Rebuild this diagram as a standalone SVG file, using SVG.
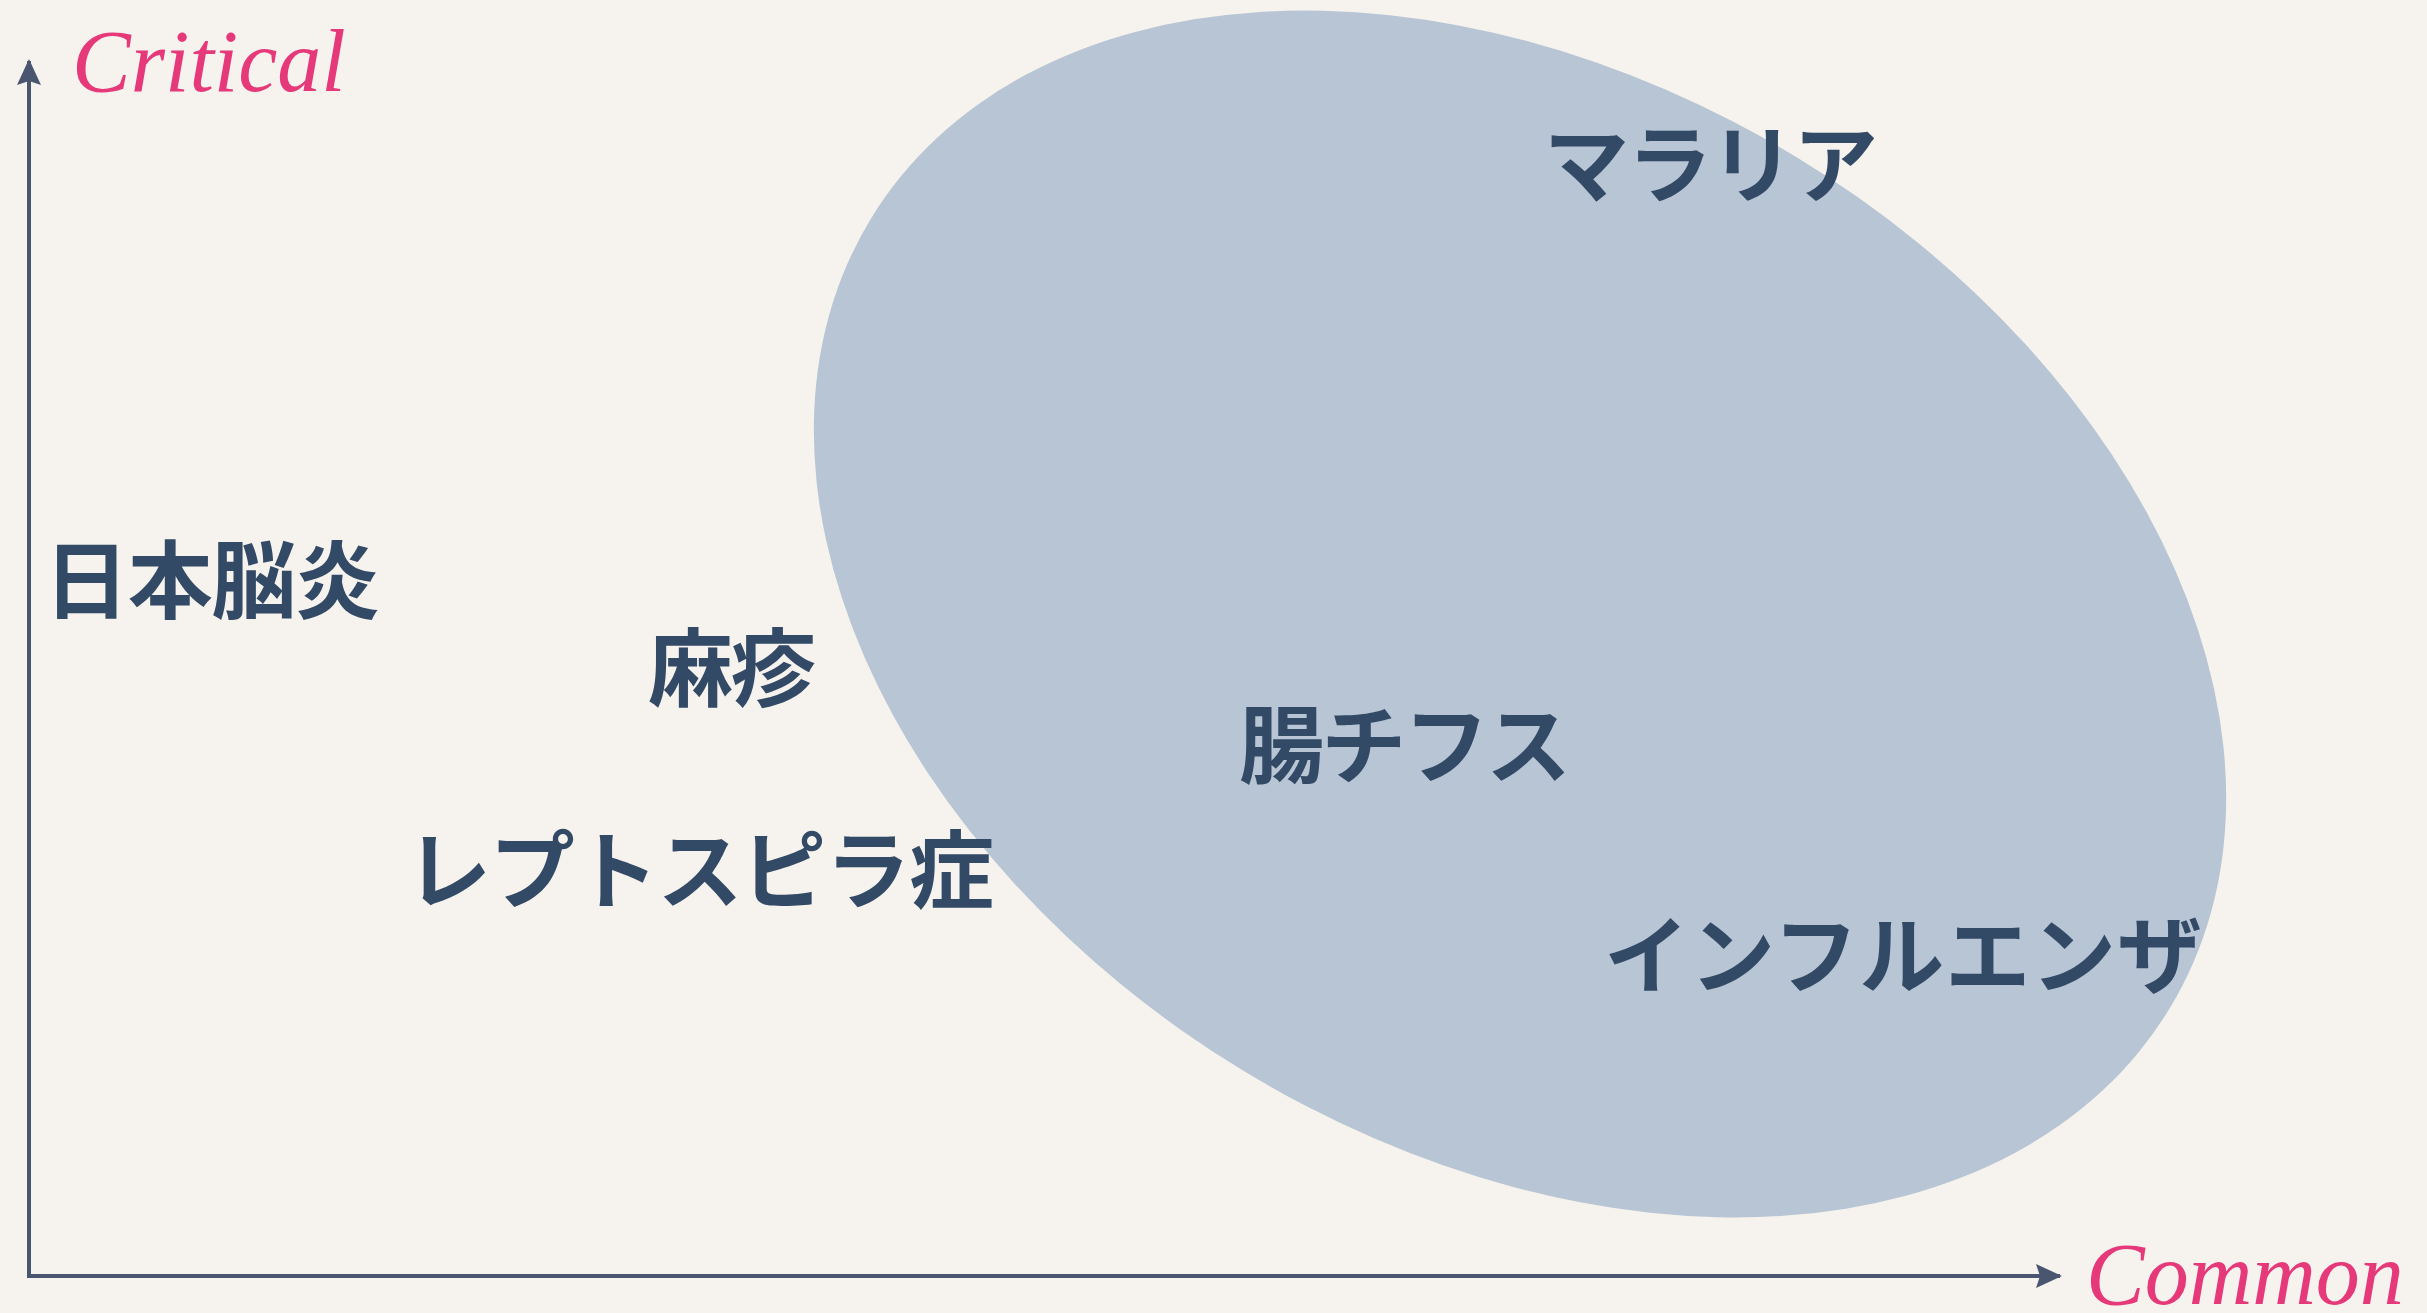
<svg xmlns="http://www.w3.org/2000/svg" width="2427" height="1313" viewBox="0 0 2427 1313">
  <style>
    .jp { font-family: "Noto Sans CJK JP", "Noto Sans CJK SC", sans-serif; font-size: 85px; font-weight: 700; fill: #334a66; }
    .ax { font-family: "Liberation Serif", serif; font-style: italic; font-size: 88px; fill: #e5397a; }
    .axis { stroke: #4a5670; stroke-width: 4; fill: none; }
  </style>
  <defs>
    <marker id="arr" viewBox="0 0 26 26" refX="24" refY="13" markerWidth="26" markerHeight="26" markerUnits="userSpaceOnUse" orient="auto">
      <path d="M0,1 L26,13 L0,25 L4,13 Z" fill="#4a5670"/>
    </marker>
  </defs>
  <rect width="2427" height="1313" fill="#f6f2ed"/>
  <g id="region">
    <ellipse cx="1520" cy="614" rx="760" ry="534" transform="rotate(31.3 1520 614)" fill="#b7c5d4"/>
  </g>
  <g id="connectors">
    <path class="axis" d="M29,1276 L29,61" marker-end="url(#arr)"/>
    <path class="axis" d="M27,1276 L2060,1276" marker-end="url(#arr)"/>
  </g>
  <g id="label-critical"><text class="ax" x="72" y="91">Critical</text></g>
  <g id="label-common"><text class="ax" x="2086" y="1304">Common</text></g>
  <g id="node-nihonnouen"><text class="jp" x="44" y="612" textLength="336" lengthAdjust="spacing">日本脳炎</text></g>
  <g id="node-mashin"><text class="jp" x="648" y="700" textLength="168" lengthAdjust="spacing">麻疹</text></g>
  <g id="node-leptospira"><text class="jp" x="406" y="902" textLength="588" lengthAdjust="spacing">レプトスピラ症</text></g>
  <g id="node-typhoid"><text class="jp" x="1239" y="777" textLength="332" lengthAdjust="spacing">腸チフス</text></g>
  <g id="node-influenza"><text class="jp" x="1604" y="987" textLength="598" lengthAdjust="spacing">インフルエンザ</text></g>
  <g id="node-malaria"><text class="jp" x="1544" y="196" textLength="334" lengthAdjust="spacing">マラリア</text></g>
</svg>
